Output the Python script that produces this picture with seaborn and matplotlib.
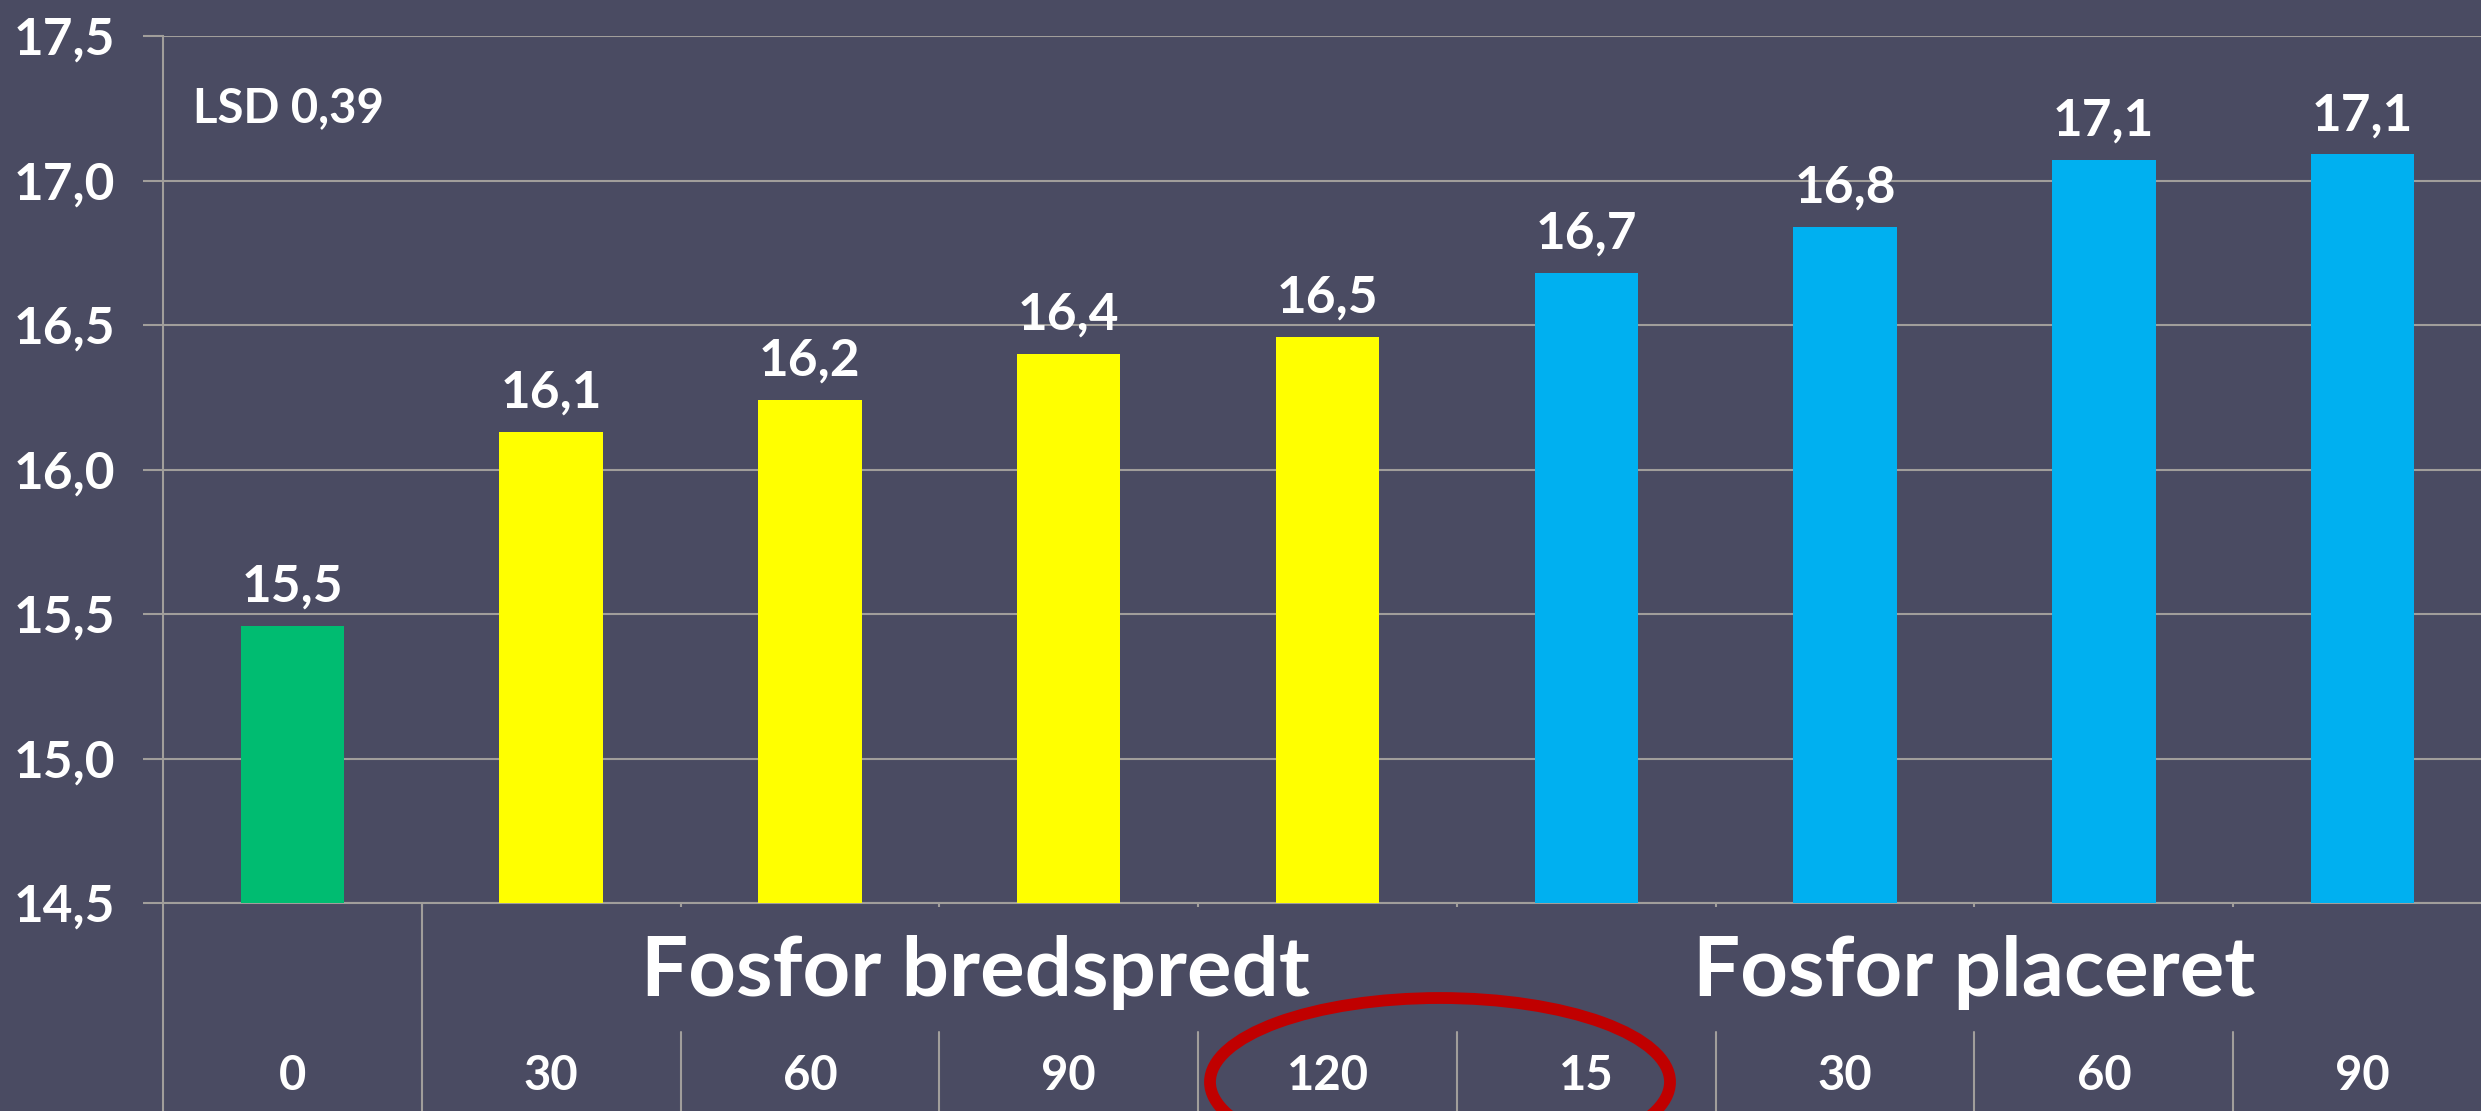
#!/usr/bin/env python3

"""Bar chart: yield per phosphorus treatment (Fosfor bredspredt / placeret)."""

import seaborn as sns
import pandas as pd
import matplotlib.pyplot as plt
from matplotlib.patches import Ellipse
from matplotlib.transforms import blended_transform_factory

####################################################################################################
# DATA

led = ["K0", "B30", "B60", "B90", "B120", "P15", "P30", "P60", "P90"]   # unique key per bar
doser = ["0", "30", "60", "90", "120", "15", "30", "60", "90"]         # label under each bar
gruppe = ["Kontrol", "Bredspredt", "Bredspredt", "Bredspredt", "Bredspredt",
          "Placeret", "Placeret", "Placeret", "Placeret"]
udbytte = [15.46, 16.13, 16.24, 16.40, 16.46, 16.68, 16.84, 17.07, 17.09]

gruppe_navne = ["Fosfor bredspredt", "Fosfor placeret"]
gruppe_pos = [2.64, 6.5]          # x position of the group captions (category units)

y_ticks = [14.5, 15.0, 15.5, 16.0, 16.5, 17.0, 17.5]
lsd_tekst = "LSD 0,39"

####################################################################################################
# STYLE

bg = "#4A4B62"
grid_col = "#A19E9B"
Pal = {"Kontrol": "#00BC71", "Bredspredt": "#FFFF00", "Placeret": "#00B0F0"}
W, H = 2481, 1111

sns.set_theme(style="dark")
plt.rcParams["font.family"] = ["Lato", "DejaVu Sans"]
plt.rcParams["font.weight"] = "bold"

def comma(v, dec=1):
    return f"{v:.{dec}f}".replace(".", ",")

df = pd.DataFrame({"led": led, "dosis": doser, "gruppe": gruppe, "udbytte": udbytte})

fig = plt.figure(figsize=(W / 100, H / 100), dpi=100, facecolor=bg)
ax = fig.add_axes([163 / W, 1 - 903 / H, (2492 - 163) / W, (903 - 36) / H])
ax.set_facecolor(bg)

sns.barplot(data=df, x="led", y="udbytte", hue="gruppe", palette=Pal, order=led,
            dodge=False, width=0.4, legend=False, saturation=1, ax=ax, zorder=3,
            edgecolor="none", linewidth=0)

ax.set_ylim(14.5, 17.5)
ax.set_xlim(-0.5, len(led) - 0.5)
ax.set_yticks(y_ticks)
ax.set_yticklabels([comma(t) for t in y_ticks], color="white", fontsize=37, fontweight="bold")
ax.tick_params(axis="y", length=14.5, width=1.5, color=grid_col, pad=20, left=True)
ax.grid(axis="y", color=grid_col, linewidth=1.5, zorder=0)
ax.grid(axis="x", visible=False)
ax.set_xlabel("")
ax.set_ylabel("")

# x axis: no labels on major ticks, small ticks at category boundaries
ax.set_xticks(range(len(led)))
ax.set_xticklabels([])
ax.tick_params(axis="x", which="major", length=0)
ax.set_xticks([i + 0.5 for i in range(len(led) - 1)], minor=True)
ax.tick_params(axis="x", which="minor", length=3, width=1.5, color=grid_col, bottom=True)

for s in ["top", "right"]:
    ax.spines[s].set_visible(False)
for s in ["left", "bottom"]:
    ax.spines[s].set_color(grid_col)
    ax.spines[s].set_linewidth(1.5)

# value labels on bars
for cont in ax.containers:
    vals = [b.get_height() for b in cont]
    ax.bar_label(cont, labels=[comma(v) for v in vals], padding=11,
                 color="white", fontsize=37, fontweight="bold")

# multi-level category axis drawn below the plot
tr = blended_transform_factory(ax.transData, ax.transAxes)
ax_h = 903 - 36
y_bot = -(H - 903) / ax_h
y_leaf = -(1032 - 903) / ax_h
ax.plot([-0.5, -0.5], [0, y_bot], transform=tr, color=grid_col, lw=1.5, clip_on=False)
ax.plot([0.5, 0.5], [0, y_bot], transform=tr, color=grid_col, lw=1.5, clip_on=False)
for i in range(1, len(led) - 1):
    ax.plot([i + 0.5, i + 0.5], [y_leaf, y_bot], transform=tr, color=grid_col, lw=1.5, clip_on=False)

for i, d in enumerate(doser):
    ax.text(i, -(1076 - 903) / ax_h, d, transform=tr, ha="center", va="center",
            color="white", fontsize=34, fontweight="bold")

for x, navn in zip(gruppe_pos, gruppe_navne):
    ax.text(x, -(972 - 903) / ax_h, navn, transform=tr, ha="center", va="center",
            color="white", fontsize=60, fontweight="bold")

# LSD note
ax.text(193 / W, 1 - 108 / H, lsd_tekst, transform=fig.transFigure, ha="left", va="center",
        color="white", fontsize=34, fontweight="bold")

# red highlight ellipse around "120" and "15"
fig.patches.append(Ellipse((1440 / W, 1 - 1082 / H), 460 / W, 168 / H,
                           transform=fig.transFigure, fill=False,
                           edgecolor="#C00000", linewidth=8.5, zorder=10))

fig.savefig("out.png", dpi=100, facecolor=bg)
